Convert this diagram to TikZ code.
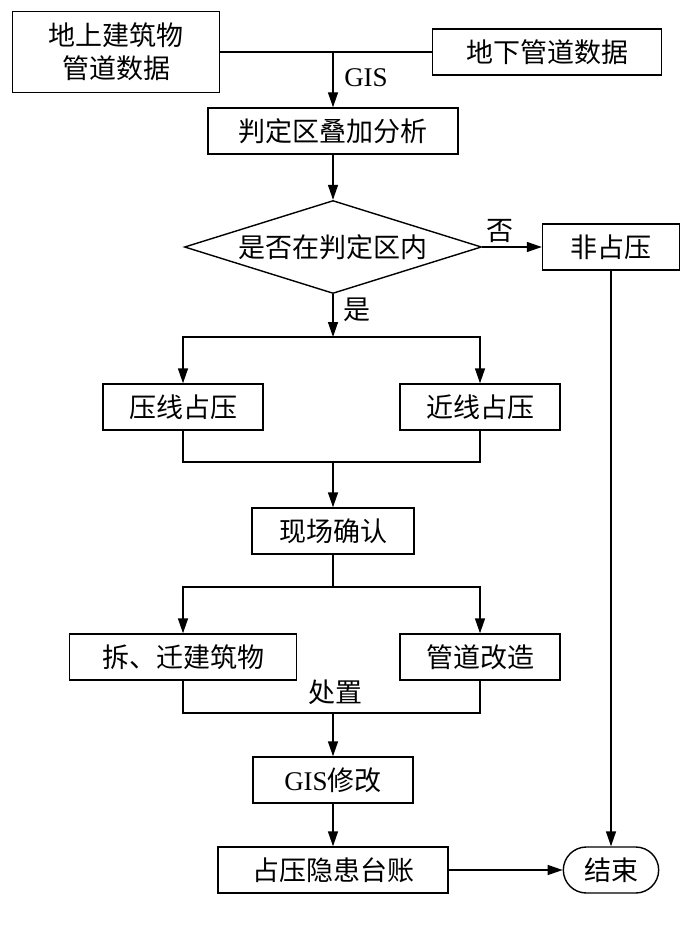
\documentclass[tikz,border=0pt]{standalone}
\usepackage{fontspec}
\setmainfont{Noto Sans CJK SC}
\newfontfamily\tnr{Liberation Serif}
\usetikzlibrary{arrows.meta,shapes.geometric,shapes.misc}

\begin{document}
\begin{tikzpicture}[x=1pt,y=-1pt,font=\fontsize{27}{33}\selectfont,
 box/.style={draw,line width=1.4pt,align=center,minimum height=46pt,inner sep=2pt},
 dec/.style={draw,line width=1.4pt,diamond,aspect=3.2,inner sep=0pt,minimum width=297pt,minimum height=93pt},
 term/.style={draw,line width=1.4pt,rounded rectangle,minimum width=102pt,minimum height=46pt},
 lab/.style={inner sep=0pt},
 ln/.style={line width=1.4pt},
 arr/.style={line width=1.4pt,-{Triangle[length=15pt,width=10pt]}}]
\useasboundingbox (0,0) rectangle (685,928);
\node[box,minimum width=207pt,minimum height=81pt] (above) at (116,52) {地上建筑物\\管道数据};
\node[box,minimum width=229pt] (below) at (547,52) {地下管道数据};
\node[box,minimum width=250pt] (overlay) at (333,131) {判定区叠加分析};
\node[dec] (inzone) at (333,247) {是否在判定区内};
\node[box,minimum width=137pt] (nonocc) at (611,247) {非占压};
\node[box,minimum width=160pt] (online) at (183,407) {压线占压};
\node[box,minimum width=160pt] (nearline) at (480,407) {近线占压};
\node[box,minimum width=162pt] (check) at (333,531) {现场确认};
\node[box,minimum width=227pt] (move) at (183,657) {拆、迁建筑物};
\node[box,minimum width=160pt] (rebuild) at (480,657) {管道改造};
\node[box,minimum width=160pt] (gisfix) at (333,780) {{\tnr GIS}修改};
\node[box,minimum width=230pt] (ledger) at (333,870) {占压隐患台账};
\node[term] (finish) at (611,870) {结束};
% labels
\node[lab] (gis) at (366,78) {\tnr GIS};
\node[lab] (no) at (500,231) {否};
\node[lab] (yes) at (357,310) {是};
\node[lab] (handle) at (335,692) {处置};
% junctions
\coordinate (j0) at (333,52);
\coordinate (j1) at (333,337);
\coordinate (j2) at (333,462);
\coordinate (j3) at (333,587);
\coordinate (j4) at (333,713);
\draw[ln] (above.east)--(below.west);
\draw[arr] (j0)--(overlay.north);
\draw[arr] (overlay.south)--(inzone.north);
\draw[arr] (inzone.east)--(nonocc.west);
\draw[arr] (inzone.south)--(j1);
\draw[arr] (j1)-|(online.north);
\draw[arr] (j1)-|(nearline.north);
\draw[ln] (online.south)|-(j2)-|(nearline.south);
\draw[arr] (j2)--(check.north);
\draw[ln] (check.south)--(j3);
\draw[arr] (j3)-|(move.north);
\draw[arr] (j3)-|(rebuild.north);
\draw[ln] (move.south)|-(j4)-|(rebuild.south);
\draw[arr] (j4)--(gisfix.north);
\draw[arr] (gisfix.south)--(ledger.north);
\draw[arr] (ledger.east)--(finish.west);
\draw[arr] (nonocc.south)--(finish.north);
\end{tikzpicture}
\end{document}
